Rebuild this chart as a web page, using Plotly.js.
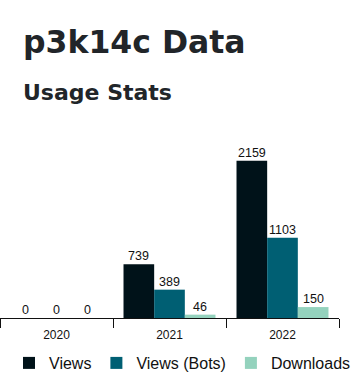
<!DOCTYPE html>
<html><head><meta charset="utf-8">
<script src="https://cdn.plot.ly/plotly-3.0.1.min.js"></script>
<style>html,body{margin:0;padding:0;background:#fff;}#chart{width:364px;height:379px;}</style>
</head><body><div id="chart"></div>
<script>
var years = ["2020", "2021", "2022"];
var views = [0, 739, 2159];
var viewsBots = [0, 389, 1103];
var downloads = [0, 46, 150];
var seriesNames = ["Views", "Views (Bots)", "Downloads"];
var seriesColors = ["#001219", "#005f73", "#94d2bd"];
var seriesValues = [views, viewsBots, downloads];

var W = 364, H = 379;
var plotW = 339;
var bargap = 0.186;
var barW = plotW / years.length * (1 - bargap) / seriesValues.length;

var traces = seriesValues.map(function(vals, i){
  return {
    type: "bar", x: years, y: vals, name: seriesNames[i],
    marker: {color: seriesColors[i]},
    hoverinfo: "none"
  };
});

var labelFont = {family: "Liberation Sans, Arial, sans-serif", size: 12.5, color: "#111"};
var labels = [];
seriesValues.forEach(function(vals, i){
  vals.forEach(function(v, j){
    labels.push({xref: "x", yref: "y", x: j, y: v, text: String(v),
      xanchor: "center", yanchor: "bottom", showarrow: false,
      xshift: (i - (seriesValues.length - 1) / 2) * barW, yshift: -1,
      font: labelFont});
  });
});

var layout = {
  width: W, height: H,
  margin: {l: 0, r: 0, t: 140, b: 61},
  paper_bgcolor: "#fff", plot_bgcolor: "#fff",
  barmode: "group", bargap: bargap, bargroupgap: 0,
  showlegend: true,
  legend: {orientation: "h", x: 9/W, xanchor: "left", yref: "container", y: 1 - 346/H, yanchor: "top",
    font: {family: "Liberation Sans, Arial, sans-serif", size: 16, color: "#111"},
    itemwidth: 30, traceorder: "normal"},
  xaxis: {type: "category", categoryarray: years, categoryorder: "array",
    range: [-0.5, years.length - 0.5], autorange: false,
    domain: [0, plotW/W], showline: true, linecolor: "#111", linewidth: 1,
    ticks: "outside", tickson: "boundaries", ticklen: 9, tickcolor: "#111",
    ticklabelstandoff: 6,
    tickfont: {family: "Liberation Sans, Arial, sans-serif", size: 12, color: "#111"},
    showgrid: false, zeroline: false, fixedrange: true, automargin: false},
  yaxis: {range: [0, 2443], autorange: false, visible: false, showgrid: false, zeroline: false},
  annotations: labels.concat([
    {xref: "paper", yref: "paper", x: 21/W, y: 1 + (140-62)/178, xanchor: "left", yanchor: "bottom",
     text: "<b>p3k14c Data</b>", showarrow: false,
     font: {family: "DejaVu Sans, sans-serif", size: 31.5, color: "#212529"}},
    {xref: "paper", yref: "paper", x: 21/W, y: 1 + (140-107)/178, xanchor: "left", yanchor: "bottom",
     text: "<b>Usage Stats</b>", showarrow: false,
     font: {family: "DejaVu Sans, sans-serif", size: 22, color: "#212529"}}
  ])
};
Plotly.newPlot("chart", traces, layout, {displayModeBar: false, staticPlot: true});
</script></body></html>
